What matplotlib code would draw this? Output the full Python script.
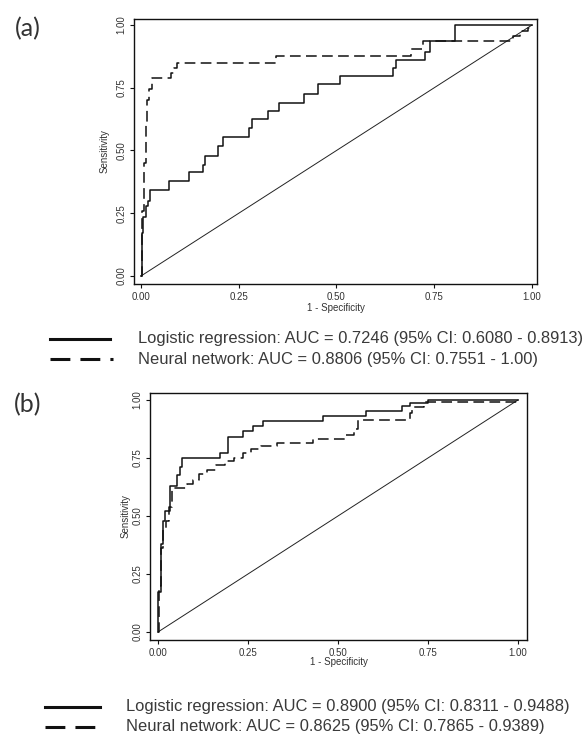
import matplotlib
matplotlib.use("Agg")
import matplotlib.pyplot as plt
from matplotlib.lines import Line2D

# ---------------- data ----------------
# Panel (a): ROC corner points (x = 1 - specificity, y = sensitivity after step)
lr_a_fpr = [0.0, 0.002, 0.006, 0.012, 0.018, 0.024, 0.071, 0.124, 0.158, 0.163, 0.196, 0.21,
            0.276, 0.285, 0.326, 0.354, 0.417, 0.453, 0.508, 0.645, 0.652, 0.726, 0.739, 0.804, 1.0]
lr_a_tpr = [0.0, 0.17, 0.237, 0.277, 0.30, 0.344, 0.38, 0.415, 0.444, 0.48, 0.517, 0.555,
            0.59, 0.624, 0.657, 0.69, 0.724, 0.764, 0.797, 0.83, 0.862, 0.893, 0.935, 1.0, 1.0]
nn_a_fpr = [0.0, 0.003, 0.008, 0.012, 0.016, 0.02, 0.028, 0.078, 0.084, 0.093, 0.345, 0.69,
            0.72, 0.952, 0.97, 0.99, 1.0]
nn_a_tpr = [0.0, 0.26, 0.45, 0.60, 0.70, 0.745, 0.787, 0.81, 0.83, 0.848, 0.878, 0.905,
            0.936, 0.955, 0.975, 0.99, 1.0]

# Panel (b)
lr_b_fpr = [0.0, 0.0, 0.007, 0.013, 0.02, 0.033, 0.054, 0.061, 0.067, 0.172, 0.195, 0.237,
            0.265, 0.293, 0.459, 0.577, 0.677, 0.70, 0.751, 1.0]
lr_b_tpr = [0.0, 0.174, 0.38, 0.48, 0.52, 0.63, 0.677, 0.709, 0.749, 0.773, 0.839, 0.868,
            0.888, 0.908, 0.931, 0.953, 0.974, 0.987, 1.0, 1.0]
nn_b_fpr = [0.0, 0.003, 0.008, 0.015, 0.022, 0.03, 0.04, 0.08, 0.098, 0.115, 0.135, 0.16,
            0.185, 0.21, 0.235, 0.258, 0.285, 0.33, 0.43, 0.52, 0.545, 0.556, 0.70, 0.705, 0.74, 1.0]
nn_b_tpr = [0.0, 0.2, 0.36, 0.45, 0.48, 0.54, 0.62, 0.638, 0.655, 0.68, 0.70, 0.718,
            0.735, 0.752, 0.77, 0.787, 0.80, 0.815, 0.832, 0.85, 0.875, 0.912, 0.945, 0.97, 0.99, 1.0]

ref_line = [0.0, 1.0]
ticks = [0.0, 0.25, 0.5, 0.75, 1.0]
tick_labels = ["0.00", "0.25", "0.50", "0.75", "1.00"]

panel_labels = ["(a)", "(b)"]
legend_a = ["Logistic regression: AUC = 0.7246 (95% CI: 0.6080 - 0.8913)",
            "Neural network: AUC = 0.8806 (95% CI: 0.7551 - 1.00)"]
legend_b = ["Logistic regression: AUC = 0.8900 (95% CI: 0.8311 - 0.9488)",
            "Neural network: AUC = 0.8625 (95% CI: 0.7865 - 0.9389)"]
xlabel = "1 - Specificity"
ylabel = "Sensitivity"

# ---------------- figure ----------------
W, H = 584, 734
fig = plt.figure(figsize=(W / 100, H / 100), dpi=100)
fig.patch.set_facecolor("white")
plt.rcParams["font.family"] = ["Liberation Sans", "DejaVu Sans"]

TXT = "#333333"


def px_rect(l, t, r, b):
    return [l / W, 1 - b / H, (r - l) / W, (b - t) / H]


def setup_axes(ax, xlim, ylim, ylab_x, xlab_y):
    ax.set_xlim(*xlim)
    ax.set_ylim(*ylim)
    for s in ax.spines.values():
        s.set_linewidth(1.0)
        s.set_color("#111111")
    ax.set_xticks(ticks)
    ax.set_xticklabels(tick_labels)
    ax.set_yticks(ticks)
    ax.set_yticklabels(tick_labels, rotation=90, va="center")
    ax.tick_params(axis="both", direction="out", length=3, width=0.8,
                   labelsize=7, labelcolor=TXT, color="#111111")
    ax.tick_params(axis="x", pad=3)
    ax.tick_params(axis="y", pad=2.5)
    ax.text(ylab_x, 0.5, ylabel, transform=ax.transAxes, rotation=90,
            ha="center", va="center", fontsize=7, color=TXT)
    ax.text(0.5, xlab_y, xlabel, transform=ax.transAxes,
            ha="center", va="center", fontsize=7, color=TXT)


def draw_curves(ax, lr_x, lr_y, nn_x, nn_y):
    ax.plot(ref_line, ref_line, color="#222222", lw=0.7)
    ax.plot(lr_x, lr_y, color="#111111", lw=1.1, drawstyle="steps-post")
    ax.plot(nn_x, nn_y, color="#111111", lw=1.1, drawstyle="steps-post",
            linestyle=(0, (7, 3.5)))


def draw_legend(labels, x0, x1, xt, ys):
    fig.add_artist(Line2D([x0 / W, x1 / W], [1 - ys[0] / H, 1 - ys[0] / H],
                          transform=fig.transFigure, color="#111111", lw=2.2))
    fig.add_artist(Line2D([x0 / W, (x1 + 3) / W], [1 - ys[1] / H, 1 - ys[1] / H],
                          transform=fig.transFigure, color="#111111", lw=2.2,
                          linestyle=(0, (6.5, 3.3))))
    for lab, y in zip(labels, ys):
        fig.text(xt / W, 1 - y / H, lab, ha="left", va="center",
                 fontsize=11.9, color="#3a3a3a")


# Panel (a)
ax_a = fig.add_axes(px_rect(134, 19, 537, 284))
setup_axes(ax_a, (-0.0179, 1.0128), (-0.0319, 1.0239), -0.072, -0.09)
draw_curves(ax_a, lr_a_fpr, lr_a_tpr, nn_a_fpr, nn_a_tpr)

# Panel (b)
ax_b = fig.add_axes(px_rect(150, 393, 527, 640))
setup_axes(ax_b, (-0.0222, 1.025), (-0.0345, 1.030), -0.066, -0.089)
draw_curves(ax_b, lr_b_fpr, lr_b_tpr, nn_b_fpr, nn_b_tpr)

# Panel labels
fig.text(28 / W, 1 - 29 / H, panel_labels[0], ha="center", va="center",
         fontsize=18, color=TXT, family=["Lato", "DejaVu Sans"])
fig.text(28 / W, 1 - 405 / H, panel_labels[1], ha="center", va="center",
         fontsize=18, color=TXT, family=["Lato", "DejaVu Sans"])

# Legends
draw_legend(legend_a, 50, 110, 138, [339, 359])
draw_legend(legend_b, 45, 100, 126, [707, 727])

fig.savefig("out.png", dpi=100, facecolor="white")
